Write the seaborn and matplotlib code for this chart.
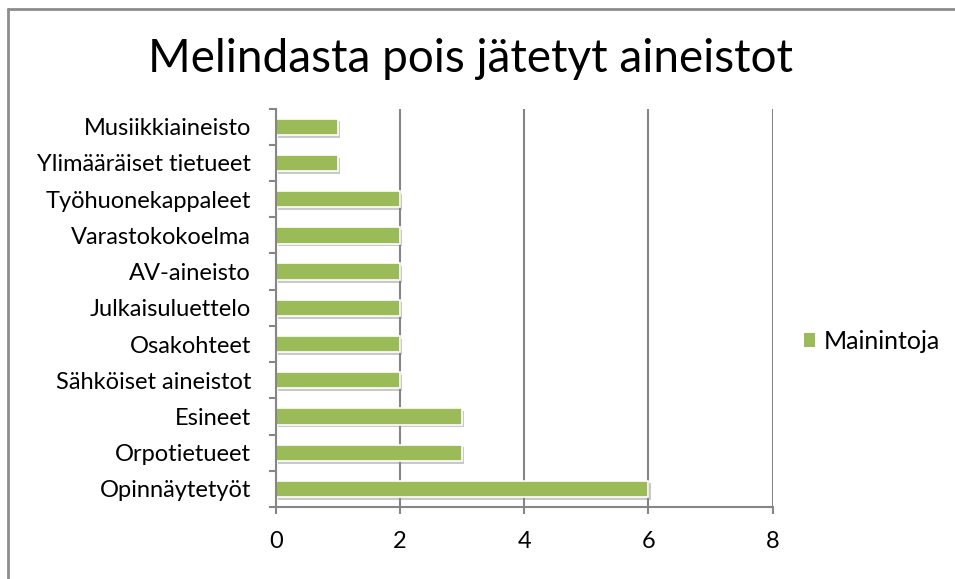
import seaborn as sns
import pandas as pd
import matplotlib.pyplot as plt
import matplotlib.patheffects as pe
from matplotlib.lines import Line2D
from matplotlib.patches import Patch

categories = ['Opinnäytetyöt', 'Orpotietueet', 'Esineet', 'Sähköiset aineistot',
              'Osakohteet', 'Julkaisuluettelo', 'AV-aineisto', 'Varastokokoelma',
              'Työhuonekappaleet', 'Ylimääräiset tietueet', 'Musiikkiaineisto']
values = [6, 3, 3, 2, 2, 2, 2, 2, 2, 1, 1]
series_name = 'Mainintoja'

# top of chart is the last category, like Excel
df = pd.DataFrame({'Aineisto': categories[::-1], series_name: values[::-1]})

sns.set_style('white')
plt.rcParams['font.family'] = ['Lato', 'DejaVu Sans']
plt.rcParams['text.color'] = 'black'
plt.rcParams['xtick.color'] = 'black'
plt.rcParams['ytick.color'] = 'black'

fig = plt.figure(figsize=(9.55, 5.79), dpi=100)
ax = fig.add_axes([0.289, 0.1244, 0.52, 0.688])

green = '#9BBB59'
sns.barplot(data=df, y='Aineisto', x=series_name, color=green, width=0.45,
            edgecolor='white', linewidth=1.2, saturation=1, ax=ax)
for p in ax.patches:
    p.set_path_effects([pe.SimplePatchShadow(offset=(1.5, -2), shadow_rgbFace='#888888', alpha=0.45),
                        pe.Normal()])

ax.set_xlim(0, 8)
ax.set_ylim(len(categories) - 0.5, -0.5)
ax.set_xticks([0, 2, 4, 6, 8])
ax.xaxis.grid(True, color='#868686', linewidth=1.5)
ax.set_axisbelow(True)
ax.set_xlabel('')
ax.set_ylabel('')

ax.set_yticks([i + 0.5 for i in range(-1, len(categories))], minor=True)
ax.tick_params(axis='y', which='major', length=0, labelsize=17, pad=18, labelcolor='black')
ax.tick_params(axis='y', which='minor', length=5, width=1.5, color='#868686', left=True)
ax.tick_params(axis='x', length=5, width=1.5, color='#868686', labelsize=17, pad=12,
               bottom=True, labelcolor='black')

sns.despine(ax=ax, top=True, right=True)
for s in ['left', 'bottom']:
    ax.spines[s].set_color('#868686')
    ax.spines[s].set_linewidth(1.5)

fig.text(0.493, 0.898, 'Melindasta pois jätetyt aineistot', ha='center', va='center',
         fontsize=33, color='black')

handle = Patch(facecolor=green, edgecolor='none')
fig.legend([handle], [series_name], loc='center left', bbox_to_anchor=(0.842, 0.41),
           frameon=False, fontsize=18, handlelength=0.45, handleheight=0.45, handletextpad=0.35,
           borderpad=0, borderaxespad=0)

# gray frame on top and left edges
fig.add_artist(Line2D([0.0085, 1.0], [0.985, 0.985], transform=fig.transFigure, color='#8c8c8c', linewidth=2))
fig.add_artist(Line2D([0.0085, 0.0085], [0.0, 0.985], transform=fig.transFigure, color='#8c8c8c', linewidth=2))

fig.savefig('out.png', dpi=100)
